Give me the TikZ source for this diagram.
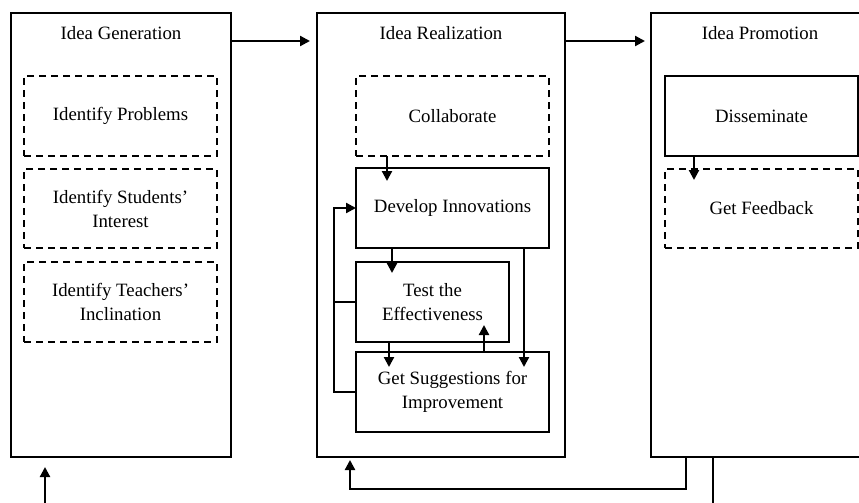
\documentclass[tikz,border=0pt]{standalone}
\usepackage{fontspec}
\setmainfont{Liberation Serif}
\usetikzlibrary{arrows.meta}

\begin{document}
\begin{tikzpicture}
  [x=1pt,y=-1pt,font=\fontsize{18.8}{24}\selectfont,
   stage/.style={draw,line width=1.6pt,anchor=north west,inner sep=0pt,outer sep=0pt},
   solidbox/.style={stage,minimum width=193pt,minimum height=80pt,align=center},
   dashbox/.style={solidbox,dash pattern=on 7pt off 5pt},
   arr/.style={line width=2.2pt,-{Triangle[length=10pt,width=10pt]}},
   link/.style={line width=2.2pt}]
  \useasboundingbox (0,0) rectangle (859,503);
  \clip (0,0) rectangle (859,503);

  \node[stage,minimum width=220pt,minimum height=444pt] (gen) at (11,13) {};
  \node[stage,minimum width=248pt,minimum height=444pt] (real) at (317,13) {};
  \node[stage,minimum width=230pt,minimum height=444pt] (prom) at (651,13) {};
  \node (gentitle) at (121,33) {Idea Generation};
  \node (realtitle) at (441,33) {Idea Realization};
  \node (promtitle) at (760,33) {Idea Promotion};

  \node[dashbox] (problems) at (24,76) {Identify Problems};
  \node[dashbox,minimum height=79pt] (students) at (24,169) {Identify Students'\\Interest};
  \node[dashbox] (teachers) at (24,262) {Identify Teachers'\\Inclination};

  \node[dashbox] (collab) at (356,76) {Collaborate};
  \node[solidbox] (dev) at (356,168) {Develop Innovations};
  \node[solidbox,minimum width=153pt] (test) at (356,262) {Test the\\Effectiveness};
  \node[solidbox] (sugg) at (356,352) {Get Suggestions for\\Improvement};

  \node[solidbox] (dis) at (665,76) {Disseminate};
  \node[dashbox,minimum height=79pt] (fb) at (665,169) {Get Feedback};

  \draw[arr] ([yshift=-28pt]gen.north east) -- ([xshift=-7pt,yshift=-28pt]real.north west);
  \draw[arr] ([yshift=-28pt]real.north east) -- ([xshift=-6pt,yshift=-28pt]prom.north west);

  \draw[arr] ([xshift=31pt]collab.south west) -- ([xshift=31pt,yshift=-13pt]dev.north west);
  \draw[arr] ([xshift=36pt]dev.south west) -- ([xshift=36pt,yshift=-11pt]test.north west);
  \draw[arr] ([xshift=33pt]test.south west) -- ([xshift=33pt,yshift=-15pt]sugg.north west);
  \draw[arr] ([xshift=128pt]sugg.north west) -- ([xshift=128pt,yshift=17pt]test.south west);
  \draw[arr] ([xshift=168pt]dev.south west) -- ([xshift=168pt,yshift=-15pt]sugg.north west);
  \draw[link] (test.west) -- ++(-22,0);
  \draw[arr] (sugg.west) -- ++(-22,0) |- (dev.west);

  \draw[arr] ([xshift=29pt]dis.south west) -- ([xshift=29pt,yshift=-11pt]fb.north west);

  \draw[arr] ([xshift=35pt]prom.south west) -- ++(0,32) -| ([xshift=33pt,yshift=-3pt]real.south west);
  \draw[link] ([xshift=62pt]prom.south west) -- ++(0,60);
  \draw[arr] ([xshift=34pt,yshift=-60pt]gen.south west) -- ([xshift=34pt,yshift=-10pt]gen.south west);
\end{tikzpicture}
\end{document}
